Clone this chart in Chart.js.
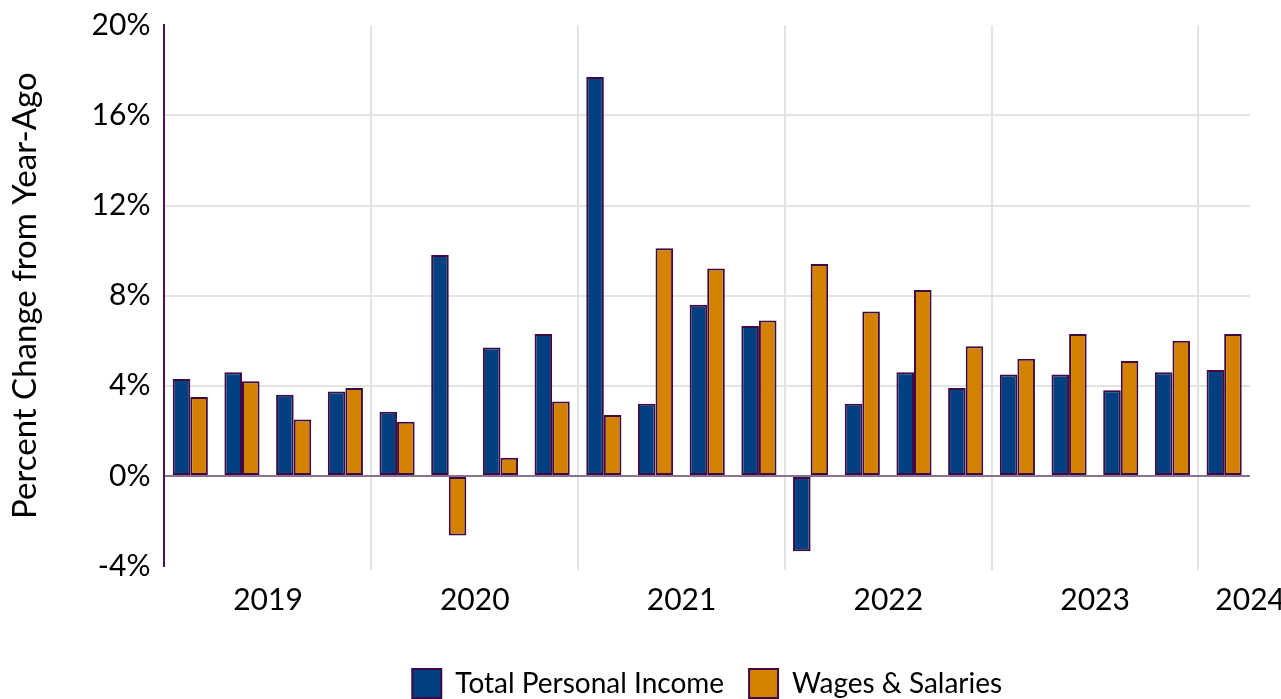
<!DOCTYPE html>
<html>
<head>
<meta charset="utf-8">
<script src="https://cdn.jsdelivr.net/npm/chart.js@4.4.1/dist/chart.umd.min.js"></script>
<style>
  html, body { margin: 0; padding: 0; background: #fff; }
  #wrap { width: 1281px; height: 699px; }
</style>
</head>
<body>
<div id="wrap"><canvas id="incomeChart" width="1281" height="699"></canvas></div>
<script>
// Trimestres 2019Q1 - 2024Q1
const quarters = [
    '2019Q1', '2019Q2', '2019Q3', '2019Q4',
    '2020Q1', '2020Q2', '2020Q3', '2020Q4',
    '2021Q1', '2021Q2', '2021Q3', '2021Q4',
    '2022Q1', '2022Q2', '2022Q3', '2022Q4',
    '2023Q1', '2023Q2', '2023Q3', '2023Q4',
    '2024Q1'
];
const totalPersonalIncome = [
    4.3, 4.6, 3.6, 3.75,
    2.85, 9.8, 5.7, 6.3,
    17.7, 3.2, 7.6, 6.65,
    -3.35, 3.2, 4.6, 3.9,
    4.5, 4.5, 3.8, 4.6,
    4.7
];
const wagesSalaries = [
    3.5, 4.2, 2.5, 3.9,
    2.4, -2.65, 0.8, 3.3,
    2.7, 10.1, 9.2, 6.9,
    9.4, 7.3, 8.25, 5.75,
    5.2, 6.3, 5.1, 6.0,
    6.3
];
// rótulo do ano em cada trimestre (vazio = sem rótulo)
const yearLabels = [
    '', '2019', '', '',
    '', '2020', '', '',
    '', '2021', '', '',
    '', '2022', '', '',
    '', '2023', '', '',
    '2024'
];
const yearStarts = [4, 8, 12, 16, 20];

const FONT = 'Lato, "Open Sans", sans-serif';
const BAR_BORDER = '#3d0a45';

new Chart(document.getElementById('incomeChart'), {
    type: 'bar',
    data: {
        labels: quarters,
        datasets: [{
            label: 'Total Personal Income',
            data: totalPersonalIncome,
            backgroundColor: '#004080',
            borderColor: BAR_BORDER,
            borderWidth: 2,
            borderSkipped: false,
            categoryPercentage: 0.68,
            barPercentage: 1.0
        }, {
            label: 'Wages & Salaries',
            data: wagesSalaries,
            backgroundColor: '#d48000',
            borderColor: BAR_BORDER,
            borderWidth: 2,
            borderSkipped: false,
            categoryPercentage: 0.68,
            barPercentage: 1.0
        }]
    },
    options: {
        responsive: false,
        animation: false,
        layout: { padding: { top: 3, right: 31, left: 2, bottom: -9 } },
        plugins: {
            legend: {
                position: 'bottom',
                fullSize: false, // centraliza sob a área do gráfico
                labels: {
                    color: '#000',
                    font: { family: FONT, size: 28 },
                    boxWidth: 29,
                    boxHeight: 29,
                    padding: 25
                }
            },
            tooltip: { enabled: false }
        },
        scales: {
            x: {
                // espaço extra entre os anos e a legenda
                afterFit: (scale) => { scale.height += 14; },
                grid: {
                    offset: true,
                    drawTicks: true,
                    tickLength: 4,
                    color: (ctx) => yearStarts.includes(ctx.index) ? '#e3e3e3' : 'rgba(0,0,0,0)',
                    lineWidth: 2
                },
                border: { display: false },
                ticks: {
                    autoSkip: false,
                    maxRotation: 0,
                    color: '#000',
                    padding: 12,
                    labelOffset: 26,
                    font: { family: FONT, size: 30 },
                    callback: (v, i) => yearLabels[i]
                }
            },
            y: {
                min: -4,
                max: 20,
                ticks: {
                    stepSize: 4,
                    color: '#000',
                    padding: 14,
                    font: { family: FONT, size: 30, lineHeight: 0.75 },
                    callback: (v) => v + '%'
                },
                grid: {
                    drawTicks: false,
                    lineWidth: 2,
                    color: (ctx) => {
                        const v = ctx.tick.value;
                        if (v === 0) return '#8d6f92';
                        if (v === 20 || v === -4) return 'rgba(0,0,0,0)';
                        return '#e3e3e3';
                    }
                },
                border: { color: '#4b1650', width: 2 },
                title: {
                    display: true,
                    text: 'Percent Change from Year-Ago',
                    color: '#000',
                    font: { family: FONT, size: 33 },
                    padding: { bottom: 32 }
                }
            }
        }
    }
});
</script>
</body>
</html>
